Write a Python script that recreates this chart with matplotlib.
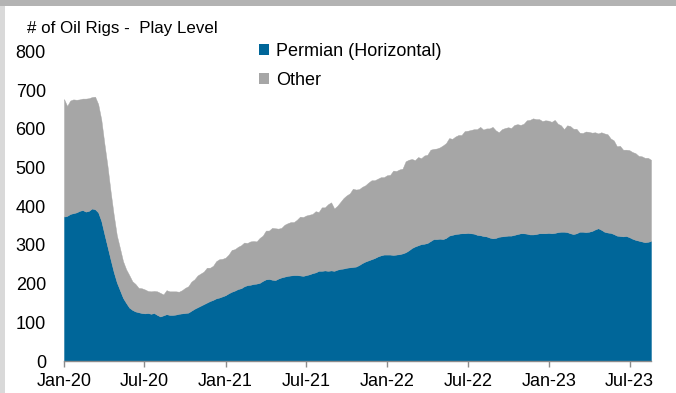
import numpy as np
import pandas as pd
import matplotlib
matplotlib.use("Agg")
import matplotlib.pyplot as plt
import matplotlib.dates as mdates
from matplotlib.patches import Patch, Rectangle

# Weekly US oil rig counts, first report of 2020 through mid-August 2023
week_start = "2020-01-03"

total_oil_rigs = [
    # 2020
    677, 659, 673, 676, 675, 676, 678, 678, 679, 682, 683, 664, 624,
    562, 504, 438, 378, 325, 292, 258, 237, 222, 206, 199, 189, 188,
    185, 181, 180, 181, 180, 176, 172, 183, 180, 180, 180, 179, 183,
    189, 193, 205, 211, 221, 226, 231, 241, 241, 246, 258, 263, 264, 267,
    # 2021
    275, 287, 289, 295, 299, 306, 305, 309, 310, 309, 318, 324, 337,
    337, 344, 343, 342, 344, 352, 356, 359, 359, 365, 373, 372, 376,
    378, 380, 387, 385, 397, 397, 405, 410, 394, 401, 411, 421, 428,
    433, 445, 443, 444, 450, 454, 461, 467, 467, 471, 475, 475, 480,
    # 2022
    481, 492, 491, 495, 497, 516, 520, 522, 519, 527, 524, 531, 533,
    546, 548, 549, 552, 557, 563, 576, 574, 580, 584, 584, 594, 595,
    597, 599, 599, 605, 598, 601, 601, 605, 596, 591, 599, 602, 604,
    602, 610, 612, 610, 613, 622, 623, 627, 625, 625, 620, 622, 621,
    # 2023
    618, 623, 613, 609, 599, 609, 607, 600, 600, 590, 589, 593, 592,
    590, 591, 588, 591, 588, 586, 575, 570, 555, 556, 546, 546, 545,
    540, 537, 530, 529, 525, 525, 520,
]

permian_horizontal = [
    # 2020
    373, 375, 380, 382, 384, 388, 390, 386, 388, 394, 392, 384, 362,
    328, 295, 262, 230, 203, 183, 163, 150, 138, 132, 128, 126, 124,
    123, 124, 122, 124, 119, 115, 118, 121, 119, 119, 120, 122, 123,
    124, 125, 130, 135, 139, 143, 147, 151, 155, 158, 162, 164, 167, 170,
    # 2021
    175, 179, 182, 186, 188, 193, 196, 197, 199, 200, 202, 207, 211,
    212, 210, 209, 213, 216, 218, 220, 221, 222, 222, 221, 220, 222,
    224, 227, 229, 233, 233, 234, 233, 234, 233, 236, 238, 239, 241,
    242, 243, 244, 248, 253, 257, 260, 263, 266, 270, 273, 275, 275,
    # 2022
    275, 274, 275, 276, 278, 281, 286, 292, 296, 299, 302, 303, 305,
    310, 315, 315, 316, 315, 318, 324, 326, 328, 329, 330, 330, 331,
    330, 329, 326, 325, 323, 322, 319, 317, 318, 321, 322, 323, 324,
    324, 326, 328, 330, 330, 329, 327, 327, 328, 330, 330, 330, 331,
    # 2023
    330, 331, 333, 334, 334, 333, 330, 328, 330, 334, 334, 333, 334,
    336, 340, 343, 339, 334, 332, 331, 328, 324, 323, 322, 323, 320,
    316, 313, 311, 309, 307, 308, 310,
]

series_labels = ["Permian (Horizontal)", "Other"]
y_ticks = [0, 100, 200, 300, 400, 500, 600, 700, 800]
tick_dates = ["2020-01-03", "2020-07-01", "2021-01-01", "2021-07-01",
              "2022-01-01", "2022-07-01", "2023-01-01", "2023-07-01"]
title_text = "# of Oil Rigs -  Play Level"

BLUE = "#006699"
GREY = "#A6A6A6"
AXIS_GREY = "#8C8C8C"
FS = 13

dates = pd.date_range(week_start, periods=len(total_oil_rigs), freq="7D")
total = np.asarray(total_oil_rigs, dtype=float)
permian = np.asarray(permian_horizontal, dtype=float)
other = total - permian

plt.rcParams["font.family"] = ["Liberation Sans", "DejaVu Sans"]

W, H = 676, 393
fig = plt.figure(figsize=(W / 100, H / 100), dpi=100)
fig.patch.set_facecolor("white")

# panel frame: dark band on top, light strip on the left
fig.patches.append(Rectangle((0, 1 - 6 / H), 1, 6 / H, transform=fig.transFigure,
                             facecolor="#B3B3B3", edgecolor="none", zorder=0))
fig.patches.append(Rectangle((0, 0), 5 / W, 1 - 6 / H, transform=fig.transFigure,
                             facecolor="#D9D9D9", edgecolor="none", zorder=0))

ax = fig.add_axes([64 / W, 32 / H, 587 / W, 309.6 / H])
polys = ax.stackplot(dates, permian, other, colors=[BLUE, GREY],
                     labels=series_labels)
for p in polys:
    p.set_edgecolor("face")
    p.set_linewidth(0.3)

ax.set_ylim(0, 800)
ax.set_xlim(dates[0], dates[-1])
ax.set_yticks(y_ticks)
ax.set_xticks(pd.to_datetime(tick_dates))
ax.xaxis.set_major_formatter(mdates.DateFormatter("%b-%y"))

for side in ("top", "right", "left"):
    ax.spines[side].set_visible(False)
ax.spines["bottom"].set_color(AXIS_GREY)
ax.spines["bottom"].set_linewidth(1.0)
ax.set_facecolor("none")

ax.tick_params(axis="y", length=0, labelsize=FS, pad=13, colors="black")
ax.tick_params(axis="x", length=4, width=1.0, color=AXIS_GREY, labelsize=FS,
               pad=5, labelcolor="black")

fig.text(27 / W, 1 - 28 / H, title_text, fontsize=12.2, va="center", ha="left")

handles = [Patch(facecolor=BLUE, edgecolor="none"),
           Patch(facecolor=GREY, edgecolor="none")]
fig.legend(handles, series_labels, loc="upper left",
           bbox_to_anchor=(259 / W, 1 - 43 / H), frameon=False, fontsize=FS,
           handlelength=0.55, handleheight=0.55, handletextpad=0.4,
           labelspacing=0.65, borderpad=0, borderaxespad=0)

fig.savefig("out.png", dpi=100, facecolor="white")
